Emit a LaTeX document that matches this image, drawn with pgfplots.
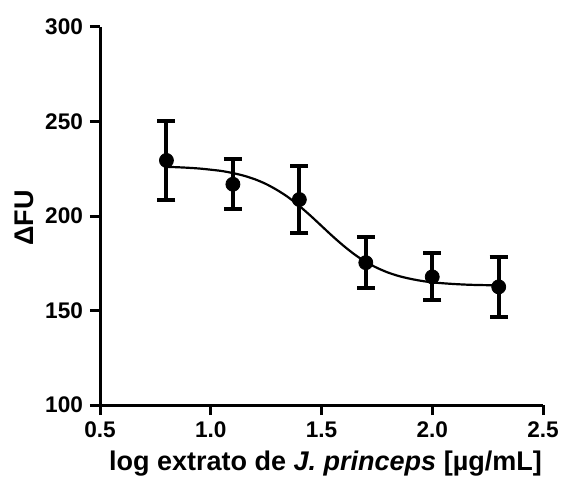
\documentclass[border=0pt]{standalone}
\usepackage{fontspec}
\setmainfont{Liberation Sans}
\usepackage{pgfplots}
\pgfplotsset{compat=1.18}

\begin{document}
\begin{tikzpicture}
\begin{axis}[
  name=ax,
  width=221.5pt, height=189pt,
  scale only axis,
  xmin=0.5, xmax=2.5,
  ymin=100, ymax=300,
  xtick={0.5,1.0,1.5,2.0,2.5},
  ytick={100,150,200,250,300},
  axis lines=left,
  axis line style={-, line width=1.5pt},
  tick align=outside,
  major tick length=5pt,
  tick style={line width=1.5pt, black},
  /pgf/number format/assume math mode=true,
  x tick label style={/pgf/number format/.cd, fixed, fixed zerofill, precision=1},
  ticklabel style={font=\fontsize{11.3}{13}\selectfont\bfseries},
  xlabel={log extrato de \textit{J. princeps} [µg/mL]},
  ylabel={ΔFU},
  every axis x label/.style={at={(axis description cs:0.5,0)}, yshift=-29.5pt, xshift=2pt,
    anchor=center, font=\fontsize{13.5}{15}\selectfont\bfseries},
  every axis y label/.style={at={(axis description cs:0,0.5)}, xshift=-38pt, yshift=-1pt,
    rotate=90, anchor=center, font=\fontsize{13.5}{15}\selectfont\bfseries},
  clip=false,
]
% ajuste sigmoidal
\addplot[black, line width=1.1pt, smooth] coordinates {
(0.80,226.0) (0.85,225.8) (0.90,225.5) (0.95,225.1) (1.00,224.5)
(1.05,223.8) (1.10,222.7) (1.15,221.3) (1.20,219.4) (1.25,216.9)
(1.30,213.7) (1.35,209.9) (1.40,205.3) (1.45,200.2) (1.50,194.75)
(1.55,189.3) (1.60,184.2) (1.65,179.6) (1.70,175.7) (1.75,172.6)
(1.80,170.1) (1.85,168.2) (1.90,166.8) (1.95,165.7) (2.00,164.9)
(2.05,164.4) (2.10,164.0) (2.15,163.7) (2.20,163.5) (2.25,163.4)
(2.30,163.25)};
% medias com erro
\addplot[black, only marks, mark=*, mark size=3.5pt,
  error bars/.cd, y dir=both, y explicit,
  error bar style={line width=2pt},
  error mark options={rotate=90, mark size=4.5pt, line width=2pt}]
  coordinates {
  (0.8,229.4) +- (0,21)
  (1.1,216.8) +- (0,13.2)
  (1.4,208.7) +- (0,17.5)
  (1.7,175.3) +- (0,13.5)
  (2.0,167.8) +- (0,12.5)
  (2.3,162.5) +- (0,16)
  };
\end{axis}
\pgfresetboundingbox
\useasboundingbox (-50pt,-38.5pt) rectangle (230.5pt,202.5pt);
\end{tikzpicture}
\end{document}
